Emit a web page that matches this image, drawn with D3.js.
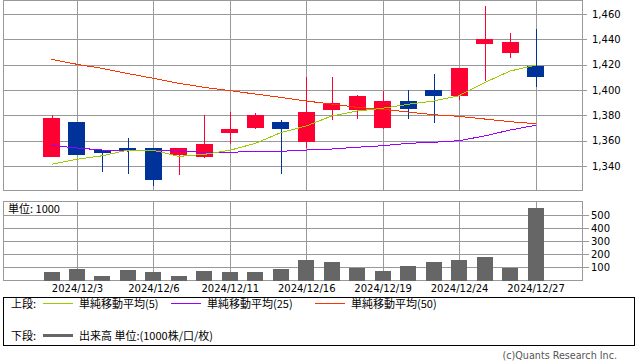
<!DOCTYPE html>
<html>
<head>
<meta charset="utf-8">
<script src="https://cdn.jsdelivr.net/npm/d3@7"></script>
<style>
    body { margin: 0; background: #fff; }
    svg { display: block; }
    .grid line { stroke: #999; stroke-width: 1; shape-rendering: crispEdges; }
    .frame { fill: none; stroke: #999; stroke-width: 1; shape-rendering: crispEdges; }
    .ticks text, .dates text { font-family: "DejaVu Sans", sans-serif; font-size: 10px; fill: #000; }
    .ticks line { stroke: #999; shape-rendering: crispEdges; }
    .ticks path { display: none; }
    .ma { fill: none; stroke-width: 1; shape-rendering: crispEdges; }
    .jp { font-family: "Noto Sans CJK JP", sans-serif; font-size: 11px; fill: #000; }
</style>
</head>
<body>
<svg id="chart" width="638" height="362"></svg>
<script>
// daily values
const dates = ["2024/12/2", "2024/12/3", "2024/12/4", "2024/12/5", "2024/12/6",
    "2024/12/9", "2024/12/10", "2024/12/11", "2024/12/12", "2024/12/13",
    "2024/12/16", "2024/12/17", "2024/12/18", "2024/12/19", "2024/12/20",
    "2024/12/23", "2024/12/24", "2024/12/25", "2024/12/26", "2024/12/27"];
const open  = [1347, 1375, 1353, 1354, 1354, 1349, 1347, 1366, 1370, 1375, 1359, 1384, 1384, 1370, 1391, 1400, 1395, 1436, 1429, 1419];
const high  = [1380, 1375, 1353, 1362, 1354, 1354, 1380, 1383, 1382, 1376, 1410, 1410, 1396, 1399, 1400, 1413, 1417, 1466, 1445, 1448];
const low   = [1347, 1349, 1335, 1334, 1324, 1333, 1346, 1357, 1369, 1334, 1354, 1376, 1377, 1369, 1377, 1374, 1392, 1407, 1425, 1402];
const close = [1378, 1349, 1350, 1352, 1329, 1354, 1357, 1369, 1380, 1369, 1383, 1390, 1395, 1391, 1385, 1395, 1417, 1440, 1438, 1410];
const volume = [64, 86, 33, 79, 64, 33, 71, 64, 64, 86, 155, 139, 96, 71, 109, 139, 155, 177, 96, 556];
const ma5  = [1341.3, 1345.3, 1348.1, 1352.6, 1352.4, 1347.6, 1349.2, 1352.4, 1357.9, 1366.3, 1371.6, 1379.5, 1383.4, 1385.6, 1388.7, 1391.3, 1395.5, 1405.8, 1415, 1419.5];
const ma25 = [1356.3, 1354.2, 1352.6, 1351.8, 1352.4, 1351.6, 1350.8, 1350.8, 1351.6, 1351.6, 1352.6, 1353.4, 1354.8, 1356, 1357.9, 1358.7, 1360, 1363.7, 1368.4, 1372.1];
const ma50 = [1424.2, 1420.3, 1417, 1413, 1409.2, 1405.3, 1402.1, 1399.5, 1396.8, 1394.2, 1391.3, 1388.9, 1386.3, 1384.8, 1382.6, 1380.5, 1379.2, 1377.1, 1375, 1373.4];
const labelDates = ["2024/12/3", "2024/12/6", "2024/12/11", "2024/12/16", "2024/12/19", "2024/12/24", "2024/12/27"];
const priceTicks = [1340, 1360, 1380, 1400, 1420, 1440, 1460];
const volumeTicks = [100, 200, 300, 400, 500];

class CandleChart {

    constructor(svg) {

        this.svg = svg;
        this.left = 3.5;
        this.right = 582.5;
        this.price = { top: 0.5, bottom: 190.5 };
        this.vol = { top: 201.5, bottom: 280.5 };

        this.x = d3.scalePoint().domain(dates).range([51.5, 535.5]);
        this.y = d3.scaleLinear().domain([1340, 1460]).range([166, 14]);
        this.yVol = d3.scaleLinear().domain([0, 500]).range([280.5, 215]);

        this.drawPanel(this.price, this.y, priceTicks, d3.format(","), 5, 5);
        this.drawPanel(this.vol, this.yVol, volumeTicks, d3.format("d"), 7, 2);
        this.drawDates();
        this.drawCandles();
        this.drawAverages();
        this.drawVolume();
        this.drawLegend();

    }

    drawPanel(panel, scale, ticks, fmt, tickLen, pad) {

        let g = this.svg.append("g").classed("grid", true);

        g.selectAll("line.h")
            .data(ticks)
            .enter()
            .append("line")
                .classed("h", true)
                .attr("x1", this.left)
                .attr("x2", this.right)
                .attr("y1", d => Math.round(scale(d)) + 0.5)
                .attr("y2", d => Math.round(scale(d)) + 0.5);

        g.selectAll("line.v")
            .data(labelDates)
            .enter()
            .append("line")
                .classed("v", true)
                .attr("x1", d => Math.round(this.x(d)) + 0.5)
                .attr("x2", d => Math.round(this.x(d)) + 0.5)
                .attr("y1", panel.top)
                .attr("y2", panel.bottom);

        this.svg.append("rect")
            .classed("frame", true)
            .attr("x", this.left)
            .attr("y", panel.top)
            .attr("width", this.right - this.left)
            .attr("height", panel.bottom - panel.top);

        // ticks + labels on the right
        this.svg.append("g")
            .classed("ticks", true)
            .attr("transform", `translate(${this.right - 0.5},0)`)
            .call(d3.axisRight(scale).tickValues(ticks).tickSize(tickLen).tickPadding(pad).tickFormat(fmt));

    }

    drawDates() {

        this.svg
            .append("g")
                .classed("dates", true)
                .selectAll("text")
                .data(labelDates)
                .enter()
                .append("text")
                    .attr("x", d => this.x(d) + 0.5)
                    .attr("y", this.vol.bottom + 11)
                    .attr("text-anchor", "middle")
                    .text(d => d);

    }

    drawCandles() {

        let bw = 17;
        let idx = d3.range(dates.length);

        let candles = this.svg
            .append("g")
                .attr("id", "candles")
                .selectAll("g.candle")
                .data(idx)
                .enter()
                .append("g")
                    .classed("candle", true)
                    .attr("fill", i => close[i] >= open[i] ? "#ff0033" : "#003399")
                    .attr("stroke", i => close[i] >= open[i] ? "#ff0033" : "#003399")
                    .attr("shape-rendering", "crispEdges");

        candles.append("line")
            .attr("x1", i => Math.round(this.x(dates[i])) + 0.5)
            .attr("x2", i => Math.round(this.x(dates[i])) + 0.5)
            .attr("y1", i => this.y(high[i]))
            .attr("y2", i => this.y(low[i]))
            .attr("stroke-width", 1);

        candles.append("rect")
            .attr("stroke", "none")
            .attr("x", i => Math.round(this.x(dates[i]) - bw / 2))
            .attr("width", bw)
            .attr("y", i => this.y(Math.max(open[i], close[i])))
            .attr("height", i => Math.max(1, this.y(Math.min(open[i], close[i])) - this.y(Math.max(open[i], close[i]))));

    }

    drawAverages() {

        let line = d3.line()
            .x((d, i) => this.x(dates[i]))
            .y(d => this.y(d));

        [[ma50, "#ff3300"], [ma25, "#9900ff"], [ma5, "#99cc00"]].forEach(([series, color]) => {
            this.svg.append("path")
                .classed("ma", true)
                .attr("stroke", color)
                .attr("d", line(series));
        });

    }

    drawVolume() {

        let bw = 16;

        this.svg
            .append("g")
                .attr("id", "volume")
                .selectAll("rect")
                .data(volume)
                .enter()
                .append("rect")
                    .attr("fill", "#666")
                    .attr("shape-rendering", "crispEdges")
                    .attr("x", (d, i) => Math.round(this.x(dates[i]) - bw / 2))
                    .attr("width", bw)
                    .attr("y", d => this.yVol(d))
                    .attr("height", d => this.yVol(0) - this.yVol(d));

        // unit label, white box in the corner
        this.svg.append("rect")
            .attr("x", 4)
            .attr("y", 202)
            .attr("width", 66)
            .attr("height", 13)
            .attr("fill", "#fff");

        this.svg.append("text")
            .classed("jp", true)
            .attr("x", 8)
            .attr("y", 213)
            .text("単位: 1000");

    }

    drawLegend() {

        let legend = this.svg.append("g").attr("id", "legend");

        legend.append("rect")
            .attr("x", 3.5)
            .attr("y", 297.5)
            .attr("width", 631)
            .attr("height", 48)
            .attr("fill", "none")
            .attr("stroke", "#000")
            .attr("shape-rendering", "crispEdges");

        let rowY = [303.5, 335.5];

        legend.append("text").classed("jp", true).attr("x", 11).attr("y", rowY[0] + 4).text("上段:");
        legend.append("text").classed("jp", true).attr("x", 11).attr("y", rowY[1] + 4).text("下段:");

        let items = [
            { x: 43, color: "#99cc00", label: "単純移動平均(5)" },
            { x: 171, color: "#9900ff", label: "単純移動平均(25)" },
            { x: 315, color: "#ff3300", label: "単純移動平均(50)" }
        ];

        items.forEach(item => {
            legend.append("line")
                .attr("x1", item.x)
                .attr("x2", item.x + 30)
                .attr("y1", rowY[0])
                .attr("y2", rowY[0])
                .attr("stroke", item.color)
                .attr("shape-rendering", "crispEdges");
            legend.append("text")
                .classed("jp", true)
                .attr("x", item.x + 36)
                .attr("y", rowY[0] + 4)
                .text(item.label);
        });

        legend.append("line")
            .attr("x1", 43)
            .attr("x2", 73)
            .attr("y1", rowY[1])
            .attr("y2", rowY[1])
            .attr("stroke", "#666")
            .attr("stroke-width", 3);

        legend.append("text")
            .classed("jp", true)
            .attr("x", 79)
            .attr("y", rowY[1] + 4)
            .text("出来高 単位:(1000株/口/枚)");

        this.svg.append("text")
            .attr("x", 617)
            .attr("y", 359)
            .attr("text-anchor", "end")
            .style("font-family", "DejaVu Sans, sans-serif")
            .style("font-size", "9.6px")
            .style("fill", "#555")
            .text("(c)Quants Research Inc.");

    }

}

new CandleChart(d3.select("#chart"));
</script>
</body>
</html>
